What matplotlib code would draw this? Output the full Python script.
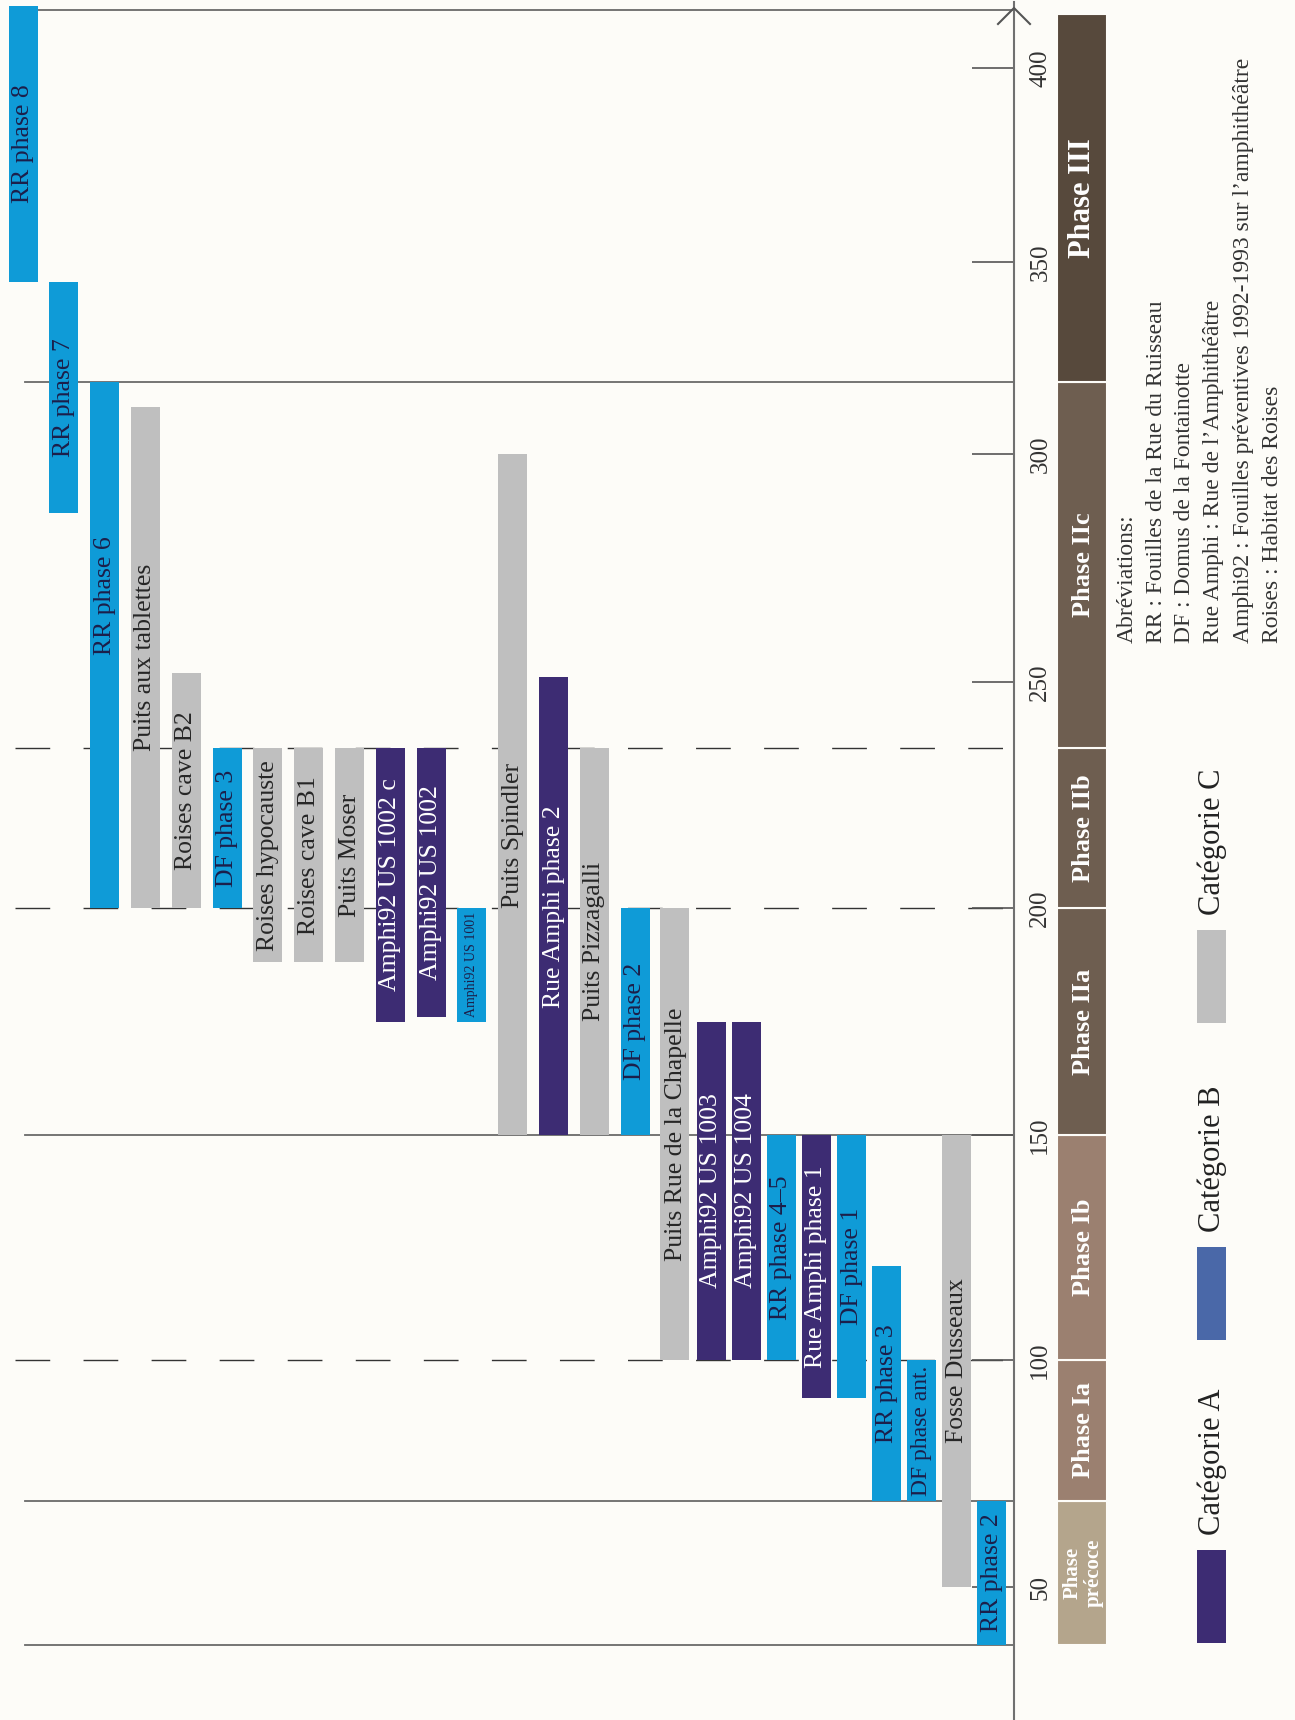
import numpy as np
import matplotlib
matplotlib.use("Agg")
import matplotlib.pyplot as plt
from matplotlib.patches import Rectangle
from matplotlib.transforms import blended_transform_factory

# one bar per deposit, dates in years AD
labels = ["RR phase 8", "RR phase 7", "RR phase 6", "Puits aux tablettes",
          "Roises cave B2", "DF phase 3", "Roises hypocauste", "Roises cave B1",
          "Puits Moser", "Amphi92 US 1002 c", "Amphi92 US 1002", "Amphi92 US 1001",
          "Puits Spindler", "Rue Amphi phase 2", "Puits Pizzagalli", "DF phase 2",
          "Puits Rue de la Chapelle", "Amphi92 US 1003", "Amphi92 US 1004",
          "RR phase 4\u20135", "Rue Amphi phase 1", "DF phase 1", "RR phase 3",
          "DF phase ant.", "Fosse Dusseaux", "RR phase 2"]
starts = [345, 287, 200, 200, 200, 200, 188, 188, 188, 175, 176, 175, 150, 150,
          150, 150, 100, 100, 100, 100, 92, 92, 70, 70, 50, 40]
ends = [416, 345, 320, 313, 252, 235, 235, 235, 235, 235, 235, 200, 300, 251,
        235, 200, 200, 175, 175, 150, 150, 150, 121, 100, 150, 70]
cats = ["B", "B", "B", "C", "C", "B", "C", "C", "C", "A", "A", "B", "C", "A",
        "C", "B", "C", "A", "A", "B", "A", "B", "B", "B", "C", "B"]

phase_names = ["Phase\npr\u00e9coce", "Phase Ia", "Phase Ib", "Phase IIa",
               "Phase IIb", "Phase IIc", "Phase III"]
phase_starts = [40, 70, 100, 150, 200, 235, 320]
phase_ends = [70, 100, 150, 200, 235, 320, 414]

tick_years = [50, 100, 150, 200, 250, 300, 350, 400]
solid_years = [40, 70, 150, 320, 415]
dashed_years = [100, 200, 235]

legend_names = ["Cat\u00e9gorie A", "Cat\u00e9gorie B", "Cat\u00e9gorie C"]
abbrev_lines = ["Abr\u00e9viations:",
                "RR : Fouilles de la Rue du Ruisseau",
                "DF : Domus de la Fontainotte",
                "Rue Amphi : Rue de l\u2019Amphith\u00e9\u00e2tre",
                "Amphi92 : Fouilles pr\u00e9ventives 1992-1993 sur l\u2019amphith\u00e9\u00e2tre",
                "Roises : Habitat des Roises"]

# the drawn time axis of the original is not quite linear: calibrate on its marks
axis_years = np.array([20.7, 40, 50, 70, 100, 150, 200, 235, 250, 300, 320, 350, 400, 417.5])
axis_px = np.array([1720, 1645, 1587, 1501, 1360, 1135, 908, 748, 682, 454, 382, 262, 68, 0])
# columns are a little wider apart on the left half than on the right half
col_slots = np.array([-0.564, 16, 33.63])
col_px = np.array([0, 676, 1295])


def fwd(y):
    return np.interp(y, axis_years, -axis_px)


def inv(v):
    return np.interp(v, -axis_px, axis_years)


def xfwd(i):
    return np.interp(i, col_slots, col_px)


def xinv(p):
    return np.interp(p, col_px, col_slots)


W, H = 1295, 1720
BG = "#fdfcf8"
cat_colors = {"A": "#3d2c73", "B": "#0f9bd7", "C": "#bfbfbf"}
text_colors = {"A": "white", "B": "#1c1f4a", "C": "#262626"}
legend_colors = ["#3d2c73", "#4a68a8", "#bfbfbf"]
phase_colors = ["#b4a58c", "#9b8070", "#9b8070", "#6e5e50", "#6e5e50", "#6e5e50", "#57493c"]
phase_sizes = [15, 19, 19, 19, 19, 19, 22]
# a few labels are not centred in their bar (shift in px, + = up)
label_shift = {"RR phase 6": 49, "Puits Spindler": -41}

plt.rcParams["font.family"] = ["Liberation Serif", "DejaVu Serif"]

fig = plt.figure(figsize=(W / 100, H / 100), dpi=100, facecolor=BG)
ax = fig.add_axes([0, 0, 1, 1])
ax.set_facecolor("none")
ax.set_yscale("function", functions=(fwd, inv))
ax.set_xscale("function", functions=(xfwd, xinv))
ax.set_xlim(col_slots[0], col_slots[-1])
ax.set_ylim(axis_years[0], axis_years[-1])

# period boundaries
for y in solid_years:
    ax.axhline(y, xmin=25 / W, xmax=1014 / W, color="#6a6a6a", lw=1.3, zorder=1)
for y in dashed_years:
    ax.axhline(y, xmin=15 / W, xmax=1014 / W, color="#333333", lw=1.0,
               dashes=(25, 24), zorder=1)

# deposit bars, all 29 px wide whatever the local column spacing
x = np.arange(len(labels))
heights = np.array(ends) - np.array(starts)
slot_px = xfwd(x + 0.5) - xfwd(x - 0.5)
widths = 29 / slot_px
ax.bar(x, heights, bottom=starts, width=widths,
       color=[cat_colors[c] for c in cats], zorder=3)
for i, (lab, s, e, c) in enumerate(zip(labels, starts, ends, cats)):
    mid = inv((fwd(s) + fwd(e)) / 2 + label_shift.get(lab, 0))
    size = 18.5
    if lab == "Amphi92 US 1001":
        size = 10
    elif lab == "DF phase ant.":
        size = 17
    ax.text(i, mid, lab, rotation=90, ha="center", va="center", fontsize=size,
            color=text_colors[c], zorder=4)

# time axis on the right
ax.spines[["top", "left", "bottom"]].set_visible(False)
ax.spines["right"].set_position(("axes", 1014 / W))
ax.spines["right"].set_color("#707070")
ax.spines["right"].set_linewidth(1.5)
ax.spines["right"].set_bounds(axis_years[0], 417)
ax.set_xticks([])
ax.xaxis.set_minor_locator(plt.NullLocator())
ax.yaxis.set_minor_locator(plt.NullLocator())
ax.yaxis.set_ticks_position("right")
ax.set_yticks(tick_years)
ax.set_yticklabels([str(t) for t in tick_years])
ax.tick_params(axis="y", direction="in", length=30, width=1.2, color="#555555",
               labelsize=18, labelcolor="#333333", labelrotation=90, pad=11)
for lab in ax.get_yticklabels():
    lab.set_va("center")
fig.add_artist(plt.Line2D([998 / W, 1014 / W, 1030 / W],
                          [1 - 24 / H, 1 - 8 / H, 1 - 24 / H],
                          color="#555555", lw=1.5, transform=fig.transFigure))

# phase column
bt = blended_transform_factory(fig.transFigure, ax.transData)
for name, s, e, c, fs in zip(phase_names, phase_starts, phase_ends, phase_colors, phase_sizes):
    ax.add_patch(Rectangle((1057 / W, s), 50 / W, e - s, transform=bt,
                           facecolor=c, edgecolor=BG, lw=1.5, zorder=3))
    mid = inv((fwd(s) + fwd(e)) / 2)
    ax.text(1083 / W, mid, name, transform=bt, rotation=90, ha="center", va="center",
            fontsize=fs, fontweight="bold", color="white", linespacing=1.05,
            multialignment="center", zorder=4)

# legend
legend_tops = [1550, 1247, 930]
for name, col, top in zip(legend_names, legend_colors, legend_tops):
    fig.add_artist(Rectangle((1197 / W, 1 - (top + 93) / H), 29 / W, 93 / H,
                             facecolor=col, edgecolor="none", transform=fig.transFigure))
    fig.text(1212 / W, 1 - (top - 15) / H, name, rotation=90, ha="center",
             va="bottom", fontsize=22, color="#222222")

# abbreviations
for k, line in enumerate(abbrev_lines):
    fig.text((1127 + 29 * k) / W, 1 - 643 / H, line, rotation=90, ha="center",
             va="bottom", fontsize=17, color="#333333")

fig.savefig("out.png", dpi=100, facecolor=BG)
